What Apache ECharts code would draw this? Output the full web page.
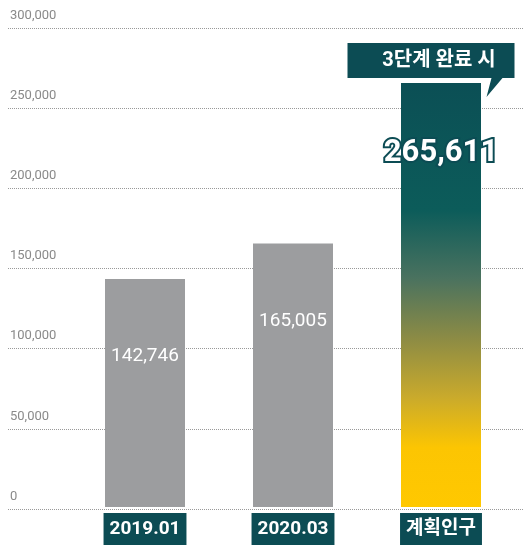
<!DOCTYPE html>
<html>
<head>
<meta charset="utf-8">
<script src="https://cdn.jsdelivr.net/npm/echarts@6/dist/echarts.min.js"></script>
<style>
  html, body { margin: 0; padding: 0; background: #fff; }
  #main { width: 523px; height: 545px; }
</style>
</head>
<body>
<div id="main"></div>
<script>
  // data
  var categories = ['2019.01', '2020.03', '계획인구']
  var population = [142746, 165005, 265611]
  var yTicks = [0, 50000, 100000, 150000, 200000, 250000, 300000]
  var calloutText = '3단계 완료 시'

  var font = 'Roboto, "Noto Sans CJK KR", sans-serif'
  var teal = '#0c4c54'

  var chart = echarts.init(document.getElementById('main'))

  var planGradient = new echarts.graphic.LinearGradient(0, 0, 0, 1, [
    { offset: 0, color: '#0b4f55' },
    { offset: 0.3, color: '#0c5c5a' },
    { offset: 0.46, color: '#4a725f' },
    { offset: 0.6, color: '#8b8b45' },
    { offset: 0.74, color: '#c9aa2c' },
    { offset: 0.86, color: '#fcc502' },
    { offset: 1, color: '#ffc800' }
  ])

  var barData = population.map(function(v, i) {
    if (i === population.length - 1) {
      return {
        value: v,
        itemStyle: { color: planGradient },
        label: {
          fontSize: 31,
          fontWeight: 'bold',
          color: '#fff',
          textBorderColor: teal,
          textBorderWidth: 4,
          distance: 55
        }
      }
    }
    return v
  })

  chart.setOption({
    animation: false,
    textStyle: { fontFamily: font },
    grid: [
      { left: 8, right: 0, top: 28, bottom: 36 },
      { left: 71, right: 8, top: 28, bottom: 36 }
    ],
    xAxis: [
      { type: 'category', gridIndex: 0, data: [], show: false },
      {
        type: 'category',
        gridIndex: 1,
        data: categories,
        axisLine: { show: false },
        axisTick: { show: false },
        axisLabel: {
          margin: 6,
          color: '#fff',
          fontSize: 19,
          fontWeight: 'bold',
          backgroundColor: teal,
          padding: [5, 6, 4, 6],
          lineHeight: 23
        }
      }
    ],
    yAxis: [
      {
        type: 'value',
        gridIndex: 0,
        min: yTicks[0],
        max: yTicks[yTicks.length - 1],
        interval: yTicks[1] - yTicks[0],
        axisLine: { show: false },
        axisTick: { show: false },
        axisLabel: {
          inside: true,
          margin: 2,
          color: '#8a8a8a',
          fontSize: 13,
          verticalAlign: 'bottom',
          padding: [0, 0, 6, 0],
          formatter: function(v) { return v.toLocaleString('en-US') }
        },
        splitLine: { lineStyle: { color: '#999', type: 'dotted', width: 1 } }
      },
      {
        type: 'value',
        gridIndex: 1,
        min: yTicks[0],
        max: yTicks[yTicks.length - 1],
        interval: yTicks[1] - yTicks[0],
        show: false,
        splitLine: { show: false }
      }
    ],
    series: [
      {
        type: 'bar',
        xAxisIndex: 1,
        yAxisIndex: 1,
        barWidth: 80,
        data: barData,
        itemStyle: { color: '#9c9d9f' },
        label: {
          show: true,
          position: 'insideTop',
          distance: 68,
          color: '#fff',
          fontSize: 19,
          formatter: function(p) { return p.value.toLocaleString('en-US') }
        },
        markPoint: {
          // callout box with the tail pointing down at the bar
          symbol: 'path://M0,0 L167,0 L167,35 L155,35 L139,54 L144,35 L0,35 Z',
          symbolSize: [167, 54],
          symbolKeepAspect: false,
          symbolOffset: [-10, -13],
          itemStyle: { color: teal },
          label: {
            show: true,
            formatter: calloutText,
            color: '#fff',
            fontSize: 20,
            fontWeight: 'bold',
            offset: [8, -9]
          },
          data: [{ coord: [categories[2], population[2]] }]
        }
      }
    ]
  })
</script>
</body>
</html>
